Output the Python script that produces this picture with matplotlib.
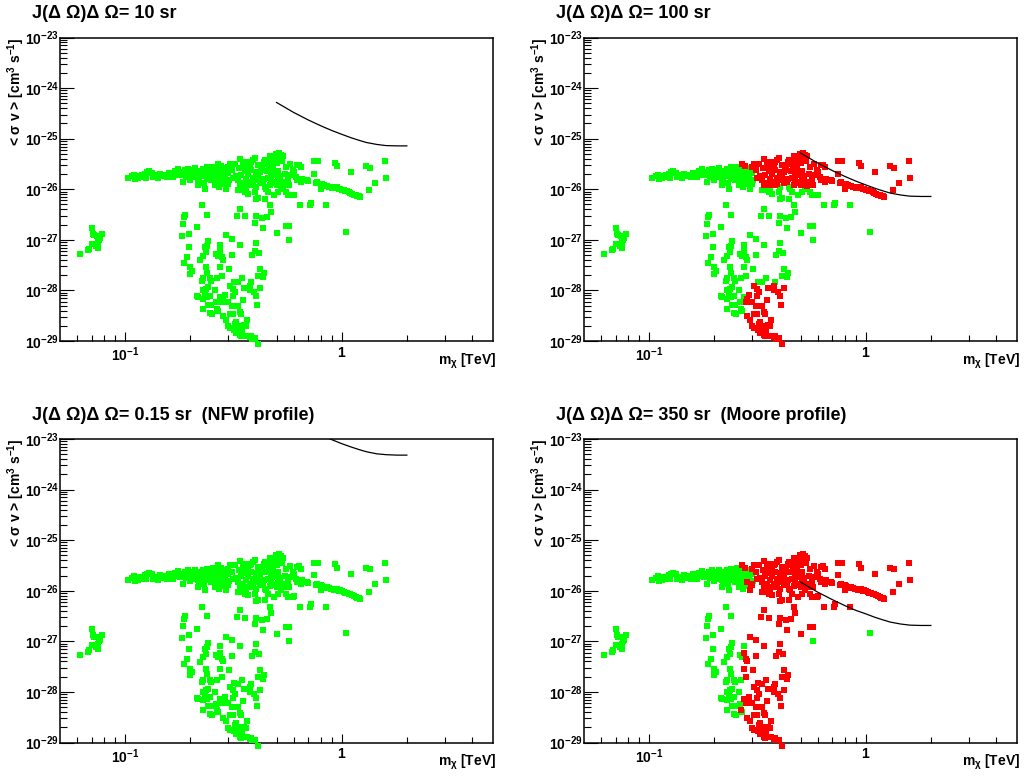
import matplotlib
matplotlib.use("Agg")
import matplotlib.pyplot as plt
from matplotlib.ticker import FixedLocator, NullFormatter, FuncFormatter
import numpy as np

plt.rcParams['font.family'] = ['Liberation Sans', 'DejaVu Sans']
plt.rcParams['font.weight'] = 'bold'
plt.rcParams['mathtext.fontset'] = 'custom'
plt.rcParams['mathtext.rm'] = 'Liberation Sans:bold'
plt.rcParams['mathtext.bf'] = 'Liberation Sans:bold'
plt.rcParams['mathtext.it'] = 'Liberation Sans:bold:italic'
plt.rcParams['mathtext.default'] = 'bf'
plt.rcParams['mathtext.fallback'] = 'stixsans'

# ---------------- data: (m_chi [TeV], <sigma v> [cm^3 s^-1]) ----------------
# points green in every panel
low_mass = [(0.0617, 5.3e-28), (0.0676, 6.2e-28), (0.0684, 6.6e-28), (0.0706, 1.75e-27),
            (0.0711, 1.32e-27), (0.0718, 1.24e-27), (0.0701, 8.3e-28), (0.0745, 1.2e-27),
            (0.0759, 1.0e-27), (0.0753, 8.9e-28), (0.0747, 6.9e-28), (0.078, 1.32e-27),
            (0.0731, 7.6e-28), (0.0764, 1.08e-27)]

band_green = [(0.1036, 1.66e-26), (0.1073, 1.82e-26), (0.1093, 1.94e-26), (0.1112, 1.57e-26),
              (0.1143, 1.66e-26), (0.1173, 1.74e-26), (0.1193, 1.88e-26), (0.1237, 2.03e-26),
              (0.1258, 2.19e-26), (0.129, 2.25e-26), (0.1327, 2.12e-26), (0.135, 1.74e-26),
              (0.1374, 1.88e-26), (0.1413, 1.66e-26), (0.1449, 2.03e-26), (0.1475, 1.82e-26),
              (0.1555, 1.74e-26), (0.161, 1.94e-26), (0.1669, 1.74e-26), (0.1698, 2.25e-26),
              (0.1729, 2.03e-26), (0.176, 2.47e-26), (0.179, 1.88e-26), (0.1823, 2.19e-26),
              (0.1855, 1.39e-26), (0.1888, 2.36e-26), (0.1922, 1.94e-26), (0.1956, 2.55e-26),
              (0.199, 2.12e-26), (0.2026, 1.74e-26), (0.2062, 2.36e-26), (0.2099, 2.62e-26),
              (0.2137, 2.03e-26), (0.216, 1.19e-26), (0.2175, 1.61e-26), (0.2213, 2.25e-26),
              (0.2253, 1.88e-26), (0.2293, 2.55e-26), (0.2317, 1.35e-26), (0.2333, 1.02e-26),
              (0.2376, 2.12e-26), (0.2416, 1.74e-26), (0.246, 2.36e-26), (0.2504, 1.5e-26),
              (0.2548, 2.03e-26), (0.2594, 2.55e-26), (0.264, 1.66e-26), (0.2687, 1.88e-26),
              (0.2735, 2.19e-26), (0.276, 2.36e-26), (0.2833, 1.57e-26), (0.2884, 2.03e-26),
              (0.19, 1.75e-26), (0.195, 2.05e-26), (0.2, 1.9e-26), (0.205, 2.2e-26),
              (0.21, 1.8e-26), (0.215, 2.3e-26), (0.22, 1.95e-26), (0.225, 2.15e-26),
              (0.23, 1.8e-26), (0.235, 2.4e-26), (0.24, 1.6e-26), (0.245, 2.0e-26),
              (0.25, 2.25e-26), (0.255, 1.7e-26), (0.26, 2.1e-26), (0.265, 1.45e-26),
              (0.27, 2.3e-26), (0.275, 1.6e-26), (0.28, 1.95e-26), (0.285, 2.6e-26),
              (0.22, 1.45e-26), (0.2, 1.55e-26), (0.26, 1.2e-26), (0.27, 1.1e-26),
              (0.28, 1.25e-26), (0.24, 2.7e-26), (0.255, 2.8e-26), (0.183, 1.9e-26),
              (0.17, 1.95e-26), (0.16, 2.1e-26), (0.15, 1.95e-26), (0.14, 1.85e-26),
              (0.125, 1.7e-26), (0.113, 1.85e-26),
              (0.2835, 2.43e-26), (0.300, 2.12e-26), (0.302, 1.55e-26)]

vert_green = [(0.2253, 4.78e-27), (0.1888, 3.13e-27), (0.1875, 2.82e-27), (0.2376, 3.13e-27),
              (0.1856, 2.01e-27), (0.2153, 1.78e-27), (0.197, 1.32e-27), (0.1823, 1.18e-27),
              (0.197, 7.16e-28), (0.192, 4.54e-28), (0.187, 3.5e-28), (0.199, 2.88e-28),
              (0.2027, 2.47e-28), (0.199, 2.12e-28), (0.221, 3.97e-28), (0.2294, 4.9e-28),
              (0.2333, 7.16e-28), (0.2376, 7.7e-28), (0.2358, 5.7e-28), (0.2417, 9.27e-28),
              (0.2735, 7.95e-28), (0.264, 5.28e-28), (0.269, 4.9e-28), (0.2358, 2.88e-28),
              (0.2376, 2.22e-28), (0.2294, 1.74e-28), (0.2253, 1.56e-28), (0.246, 1.74e-28),
              (0.2504, 1.56e-28), (0.266, 1.74e-28), (0.2417, 1.16e-28), (0.2358, 1.07e-28),
              (0.2294, 1.0e-28), (0.2594, 1.0e-28), (0.2333, 8.5e-29), (0.2137, 7.67e-29),
              (0.2175, 7.3e-29), (0.2294, 6.8e-29), (0.2376, 7.3e-29), (0.246, 7.9e-29),
              (0.264, 5.84e-29), (0.2417, 5.25e-29), (0.2504, 5.17e-29), (0.2294, 4.3e-29),
              (0.246, 3.58e-29), (0.253, 3.42e-29), (0.269, 4.0e-29),
              (0.574, 1.01e-27), (1.047, 1.46e-27)]

# points red only for 350 sr (green elsewhere)
red_350_only = [(0.2735, 5.9e-28), (0.2793, 4.54e-28), (0.2845, 4.08e-28), (0.31, 1.05e-27),
                (0.2937, 1.22e-27), (0.338, 7.95e-28), (0.4008, 8.7e-28), (0.415, 5.53e-28),
                (0.3963, 6.15e-28), (0.3867, 5.12e-28), (0.31, 5.05e-28), (0.2735, 2.88e-28),
                (0.302, 2.67e-28), (0.2793, 1.96e-28), (0.3478, 1.74e-28), (0.3324, 1.45e-28),
                (0.317, 1.49e-28), (0.3827, 1.45e-28), (0.4108, 1.96e-28), (0.4209, 2.67e-28),
                (0.4358, 2.19e-28), (0.4329, 1.82e-28), (0.2735, 7.3e-29), (0.266, 4.3e-29),
                (0.3405, 4.11e-27), (0.33, 3.02e-27), (0.359, 2.95e-27), (0.4008, 2.9e-27),
                (0.4285, 2.69e-27), (0.4532, 2.77e-27), (0.3963, 2.17e-27), (0.4315, 1.7e-27),
                (0.504, 1.38e-27), (0.556, 1.92e-27), (0.5705, 1.92e-27), (0.643, 4.78e-27),
                (0.717, 4.78e-27), (0.722, 5.4e-27), (0.847, 4.78e-27), (0.4694, 3.63e-27),
                (0.4645, 4.78e-27),
                (0.2835, 1.5e-26), (0.2965, 1.39e-26), (0.332, 9.5e-27), (0.344, 9.5e-27),
                (0.3503, 1.1e-26), (0.3565, 8.8e-27), (0.363, 1.02e-26), (0.3693, 8.1e-27),
                (0.3963, 8.8e-27), (0.4035, 1.1e-26), (0.4405, 1.1e-26), (0.448, 1.02e-26),
                (0.456, 8.8e-27), (0.525, 1.02e-26), (0.553, 8.8e-27), (0.593, 7.55e-27),
                (0.604, 7.8e-27), (0.5628, 7.55e-27), (0.507, 8.8e-27), (0.4893, 7.55e-27),
                (0.4405, 6.5e-27), (0.4106, 6.7e-27), (0.4035, 6.3e-27), (0.2935, 1.02e-26),
                (0.2987, 1.29e-26)]

# points red for 100 sr and 350 sr
red_100_350 = [(0.498, 5.05e-26), (0.516, 5.28e-26), (0.525, 4.82e-26), (0.534, 4.54e-26),
               (0.507, 4.34e-26), (0.4893, 4.02e-26), (0.4725, 3.73e-26), (0.4808, 3.45e-26),
               (0.4645, 4.54e-26), (0.4405, 3.73e-26), (0.4374, 3.45e-26), (0.448, 3.2e-26),
               (0.3963, 4.14e-26), (0.3895, 3.73e-26), (0.3826, 3.45e-26), (0.3758, 3.2e-26),
               (0.363, 3.45e-26), (0.3693, 2.75e-26), (0.3503, 3.45e-26), (0.3565, 2.25e-26),
               (0.344, 1.94e-26), (0.326, 1.82e-26), (0.3203, 3.2e-26), (0.304, 3.2e-26),
               (0.2985, 2.75e-26), (0.2687, 3.2e-26), (0.2784, 2.88e-26), (0.332, 1.5e-26),
               (0.338, 1.19e-26), (0.3758, 1.39e-26), (0.3826, 1.19e-26), (0.3895, 1.29e-26),
               (0.4106, 1.88e-26), (0.418, 2.19e-26), (0.425, 2.36e-26), (0.422, 1.61e-26),
               (0.4327, 1.39e-26), (0.4645, 1.23e-26), (0.4725, 1.5e-26), (0.4808, 1.39e-26),
               (0.4893, 1.88e-26), (0.498, 2.03e-26), (0.507, 1.61e-26), (0.516, 1.29e-26),
               (0.534, 1.16e-26), (0.5435, 1.39e-26), (0.5628, 1.43e-26), (0.5728, 1.19e-26),
               (0.583, 1.88e-26), (0.593, 2.36e-26), (0.604, 2.19e-26), (0.6143, 1.74e-26),
               (0.625, 2.96e-26), (0.636, 3.06e-26), (0.6475, 2.75e-26), (0.625, 1.5e-26),
               (0.6475, 1.39e-26), (0.659, 1.61e-26), (0.6706, 1.5e-26), (0.690, 1.5e-26),
               (0.700, 1.43e-26), (0.745, 3.56e-26), (0.777, 3.56e-26), (0.745, 2.03e-26),
               (0.31, 2.4e-26), (0.315, 1.7e-26), (0.335, 2.6e-26), (0.34, 3.9e-26),
               (0.355, 2.9e-26), (0.36, 1.6e-26), (0.37, 2.0e-26), (0.38, 2.4e-26),
               (0.39, 1.7e-26), (0.40, 2.2e-26), (0.41, 3.0e-26), (0.42, 1.3e-26),
               (0.43, 2.7e-26), (0.45, 2.3e-26), (0.455, 1.7e-26), (0.46, 3.0e-26),
               (0.47, 2.1e-26), (0.48, 2.6e-26), (0.49, 1.3e-26), (0.5, 3.3e-26),
               (0.51, 2.3e-26), (0.52, 1.8e-26), (0.53, 3.6e-26), (0.545, 2.0e-26),
               (0.555, 2.7e-26), (0.565, 1.65e-26), (0.575, 3.1e-26), (0.35, 1.35e-26),
               (0.36, 1.2e-26), (0.4, 1.5e-26), (0.44, 1.6e-26), (0.5, 1.2e-26),
               # tail
               (0.772, 1.39e-26), (0.799, 1.29e-26), (0.828, 1.19e-26), (0.857, 1.16e-26),
               (0.888, 1.1e-26), (0.920, 1.05e-26), (0.953, 1.1e-26), (0.987, 1.02e-26),
               (1.023, 9.5e-27), (1.06, 9.06e-27), (1.098, 8.5e-27), (1.137, 7.8e-27),
               (1.178, 7.3e-27), (1.22, 7.0e-27), (0.799, 1.02e-26), (0.81, 1.25e-26),
               (0.84, 1.15e-26), (0.87, 1.12e-26), (0.90, 1.08e-26), (0.94, 1.06e-26),
               (0.97, 1.0e-26), (1.0, 9.8e-27), (1.04, 9.2e-27), (1.08, 8.8e-27),
               (1.12, 8.1e-27), (1.16, 7.6e-27), (1.2, 7.2e-27), (0.76, 1.32e-26),
               (0.936, 3.35e-26), (0.953, 2.88e-26), (1.105, 2.19e-26), (1.30, 2.88e-26),
               (1.347, 2.67e-26), (1.579, 3.56e-26), (1.60, 1.66e-26), (1.42, 1.35e-26),
               (1.333, 9.5e-27),
               # bottom of the vertical branch
               (0.306, 1.25e-28), (0.315, 1.07e-28), (0.3758, 1.25e-28), (0.3527, 1.12e-28),
               (0.4209, 1.1e-28), (0.392, 9.2e-29), (0.3758, 1.0e-28), (0.4008, 7.67e-29),
               (0.4065, 5.17e-29), (0.3207, 9.2e-29), (0.315, 7.67e-29), (0.2884, 8.1e-29),
               (0.284, 6.8e-29), (0.2937, 6.0e-29), (0.2793, 6.0e-29), (0.299, 6.0e-29),
               (0.324, 5.0e-29), (0.3503, 6.58e-29), (0.3324, 5.0e-29), (0.313, 5.0e-29),
               (0.284, 3.08e-29), (0.2937, 2.64e-29), (0.304, 3.42e-29), (0.315, 3.42e-29),
               (0.338, 3.8e-29), (0.344, 3.42e-29), (0.3266, 2.42e-29), (0.3207, 2.17e-29),
               (0.3324, 2.0e-29), (0.3527, 2.07e-29), (0.3603, 1.95e-29), (0.3656, 2.62e-29),
               (0.299, 1.95e-29), (0.306, 1.78e-29), (0.317, 1.68e-29), (0.3357, 1.73e-29),
               (0.3478, 1.68e-29), (0.3266, 1.44e-29), (0.338, 1.31e-29), (0.344, 1.24e-29),
               (0.3565, 1.27e-29), (0.3656, 1.27e-29), (0.3758, 1.18e-29), (0.3867, 1.1e-29),
               (0.3827, 1.24e-29), (0.398, 1.13e-29), (0.409, 8.6e-30)]

# sensitivity curves (m [TeV], <sigma v>)
curve_m = [0.50, 0.55, 0.60, 0.70, 0.80, 0.90, 1.0, 1.1, 1.2, 1.3, 1.45, 1.6, 1.8, 2.0]
curve_10sr = [5.2e-25, 4.1e-25, 3.3e-25, 2.35e-25, 1.8e-25, 1.45e-25, 1.22e-25, 1.05e-25,
              9.3e-26, 8.4e-26, 7.7e-26, 7.3e-26, 7.2e-26, 7.2e-26]
curve_100sr = [5.2e-26, 4.1e-26, 3.3e-26, 2.35e-26, 1.8e-26, 1.45e-26, 1.22e-26, 1.05e-26,
               9.3e-27, 8.4e-27, 7.7e-27, 7.3e-27, 7.2e-27, 7.2e-27]
curve_nfw = [3.5e-23, 2.7e-23, 2.2e-23, 1.57e-23, 1.2e-23, 9.7e-24, 8.1e-24, 7.0e-24,
             6.2e-24, 5.6e-24, 5.1e-24, 4.9e-24, 4.8e-24, 4.8e-24]
curve_moore = [1.49e-26, 1.17e-26, 9.4e-27, 6.7e-27, 5.1e-27, 4.1e-27, 3.5e-27, 3.0e-27,
               2.66e-27, 2.4e-27, 2.2e-27, 2.09e-27, 2.06e-27, 2.06e-27]

titles = ["J(\u0394 \u03a9)\u0394 \u03a9= 10 sr", "J(\u0394 \u03a9)\u0394 \u03a9= 100 sr",
          "J(\u0394 \u03a9)\u0394 \u03a9= 0.15 sr  (NFW profile)",
          "J(\u0394 \u03a9)\u0394 \u03a9= 350 sr  (Moore profile)"]
curves = [curve_10sr, curve_100sr, curve_nfw, curve_moore]

# ---------------- figure ----------------
W, H = 1025, 780
fig = plt.figure(figsize=(W / 100, H / 100), dpi=100)
origins = [(60, 37.5), (584, 37.5), (60, 439), (584, 439)]
AW, AH = 433, 303.5

green_all = low_mass + band_green + vert_green
GREEN = '#00ff00'
RED = '#ff0000'


def yfmt(v, pos):
    e = int(round(np.log10(v)))
    return r'$10^{%d}$' % e


def xfmt(v, pos):
    if abs(v - 1) < 1e-9:
        return r'$1$'
    e = int(round(np.log10(v)))
    return r'$10^{%d}$' % e


for i, (ox, oy) in enumerate(origins):
    ax = fig.add_axes([ox / W, 1 - (oy + AH) / H, AW / W, AH / H])
    ax.set_xscale('log')
    ax.set_yscale('log')
    ax.set_xlim(0.05, 5)
    ax.set_ylim(1e-29, 1e-23)

    if i in (0, 2):
        g = green_all + red_350_only + red_100_350
        r = []
    elif i == 1:
        g = green_all + red_350_only
        r = red_100_350
    else:
        g = green_all
        r = red_350_only + red_100_350
    gm, gs = zip(*g)
    ax.scatter(gm, gs, s=17, marker='s', c=GREEN, linewidths=0, clip_on=False, zorder=3)
    if r:
        rm, rs = zip(*r)
        ax.scatter(rm, rs, s=17, marker='s', c=RED, linewidths=0, clip_on=False, zorder=4)
    ax.plot(curve_m, curves[i], color='black', lw=0.9, zorder=5)

    ax.xaxis.set_major_locator(FixedLocator([0.1, 1]))
    ax.xaxis.set_minor_locator(FixedLocator([0.06, 0.07, 0.08, 0.09, 0.2, 0.3, 0.4, 0.5,
                                             0.6, 0.7, 0.8, 0.9, 2, 3, 4]))
    ax.xaxis.set_major_formatter(FuncFormatter(xfmt))
    ax.xaxis.set_minor_formatter(NullFormatter())
    ax.yaxis.set_major_locator(FixedLocator([10.0 ** e for e in range(-29, -22)]))
    ax.yaxis.set_minor_locator(FixedLocator([k * 10.0 ** e for e in range(-29, -23)
                                             for k in range(2, 10)]))
    ax.yaxis.set_major_formatter(FuncFormatter(yfmt))
    ax.yaxis.set_minor_formatter(NullFormatter())

    ax.tick_params(axis='both', which='both', direction='in', top=False, right=False,
                   width=0.8, labelsize=10)
    ax.tick_params(axis='x', which='major', length=6.5, pad=3.5)
    ax.tick_params(axis='x', which='minor', length=4.3)
    ax.tick_params(axis='y', which='major', length=10, pad=1.0)
    ax.tick_params(axis='y', which='minor', length=5)
    for sp in ax.spines.values():
        sp.set_linewidth(1.1)

    # title
    fig.text((ox - 28) / W, 1 - (oy - 24) / H, titles[i], fontsize=13, fontweight='bold',
             ha='left', va='center')
    # y label
    fig.text((ox - 44) / W, 1 - oy / H, r'< $\sigma$ v > [cm$^{3}$ s$^{-1}$]',
             fontsize=10, fontweight='bold', rotation=90, ha='center', va='top')
    # x label
    fig.text((ox + AW + 3) / W, 1 - (oy + AH + 20) / H, r'm$_{\chi}$ [TeV]',
             fontsize=10, fontweight='bold', ha='right', va='center')

fig.savefig('out.png', dpi=100)
